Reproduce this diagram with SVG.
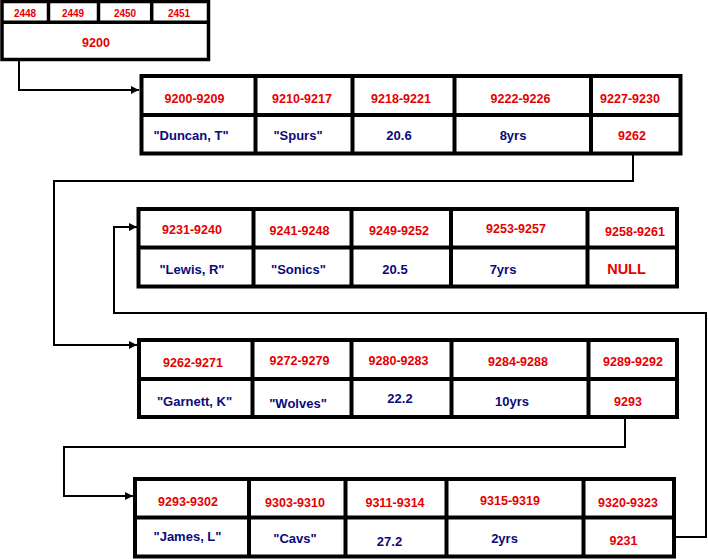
<svg xmlns="http://www.w3.org/2000/svg" width="708" height="559" viewBox="0 0 708 559">
<defs>
<marker id="arr" viewBox="0 0 10 10" refX="10" refY="5" markerWidth="4" markerHeight="4" markerUnits="strokeWidth" orient="auto">
<path d="M0,0 L10,5 L0,10 z" fill="#000"/>
</marker>
<style>
.box{fill:#fff;stroke:#000;stroke-width:4}
.ln{stroke:#000;stroke-width:4;fill:none}
.r{fill:#e60000;font-family:"Liberation Sans",Arial,sans-serif;font-weight:bold;font-size:12.5px;text-anchor:middle}
.s{fill:#e60000;font-family:"Liberation Sans",Arial,sans-serif;font-weight:bold;font-size:10px;text-anchor:middle}
.b{fill:#0a0a7a;font-family:"Liberation Sans",Arial,sans-serif;font-weight:bold;font-size:13px;text-anchor:middle}
.n{fill:#e60000;font-family:"Liberation Sans",Arial,sans-serif;font-weight:bold;font-size:14.5px;text-anchor:middle}
.c{stroke:#000;stroke-width:2;fill:none}
</style>
</defs>
<rect width="708" height="559" fill="#fff"/>

<g id="connectors">
<polyline class="c" points="19,60 19,90 139,90" marker-end="url(#arr)"/>
<polyline class="c" points="633,155 633,181 54,181 54,345 137,345" marker-end="url(#arr)"/>
<polyline class="c" points="625,419 625,447 64,447 64,496 133,496" marker-end="url(#arr)"/>
<polyline class="c" points="676,537 706,537 706,313 114,313 114,227 137,227" marker-end="url(#arr)"/>
</g>

<g id="head">
<rect class="box" x="2" y="1.5" width="206.5" height="58" style="stroke-width:3.5"/>
<line class="ln" x1="2" y1="22.3" x2="208.5" y2="22.3" style="stroke-width:3.5"/>
<line class="ln" x1="48.5" y1="1.5" x2="48.5" y2="22.3" style="stroke-width:3.5"/>
<line class="ln" x1="98.5" y1="1.5" x2="98.5" y2="22.3" style="stroke-width:3.5"/>
<line class="ln" x1="151.7" y1="1.5" x2="151.7" y2="22.3" style="stroke-width:3.5"/>
<text class="s" x="25" y="17">2448</text>
<text class="s" x="73" y="17">2449</text>
<text class="s" x="125" y="17">2450</text>
<text class="s" x="179" y="17">2451</text>
<text class="r" x="96" y="47">9200</text>
</g>

<g id="record1">
<rect class="box" x="141.5" y="76" width="539" height="77.5"/>
<line class="ln" x1="141.5" y1="115" x2="680.5" y2="115"/>
<line class="ln" x1="255.5" y1="76" x2="255.5" y2="153.5"/>
<line class="ln" x1="352.5" y1="76" x2="352.5" y2="153.5"/>
<line class="ln" x1="454.5" y1="76" x2="454.5" y2="153.5"/>
<line class="ln" x1="591" y1="76" x2="591" y2="153.5"/>
<text class="r" x="194.5" y="102.5">9200-9209</text>
<text class="r" x="302" y="103">9210-9217</text>
<text class="r" x="401" y="103">9218-9221</text>
<text class="r" x="520.5" y="103">9222-9226</text>
<text class="r" x="630" y="103">9227-9230</text>
<text class="b" x="191" y="139.5">"Duncan, T"</text>
<text class="b" x="298" y="140">"Spurs"</text>
<text class="b" x="399" y="140">20.6</text>
<text class="b" x="513" y="140">8yrs</text>
<text class="r" x="632" y="140">9262</text>
</g>

<g id="record2">
<rect class="box" x="138.5" y="209" width="538.5" height="77.5"/>
<line class="ln" x1="138.5" y1="247.5" x2="677" y2="247.5"/>
<line class="ln" x1="253.5" y1="209" x2="253.5" y2="286.5"/>
<line class="ln" x1="351.5" y1="209" x2="351.5" y2="286.5"/>
<line class="ln" x1="451" y1="209" x2="451" y2="286.5"/>
<line class="ln" x1="587.5" y1="209" x2="587.5" y2="286.5"/>
<text class="r" x="192" y="234">9231-9240</text>
<text class="r" x="299.5" y="235">9241-9248</text>
<text class="r" x="399" y="235">9249-9252</text>
<text class="r" x="516" y="233">9253-9257</text>
<text class="r" x="635" y="236">9258-9261</text>
<text class="b" x="192" y="273.5">"Lewis, R"</text>
<text class="b" x="298.5" y="274">"Sonics"</text>
<text class="b" x="395" y="274">20.5</text>
<text class="b" x="503" y="273.5">7yrs</text>
<text class="n" x="626.5" y="274">NULL</text>
</g>

<g id="record3">
<rect class="box" x="139" y="340" width="538" height="77"/>
<line class="ln" x1="139" y1="379" x2="677" y2="379"/>
<line class="ln" x1="252.5" y1="340" x2="252.5" y2="417"/>
<line class="ln" x1="351.5" y1="340" x2="351.5" y2="417"/>
<line class="ln" x1="451.5" y1="340" x2="451.5" y2="417"/>
<line class="ln" x1="588.5" y1="340" x2="588.5" y2="417"/>
<text class="r" x="193" y="366.5">9262-9271</text>
<text class="r" x="299.5" y="365">9272-9279</text>
<text class="r" x="398.5" y="365">9280-9283</text>
<text class="r" x="518" y="366">9284-9288</text>
<text class="r" x="633" y="366">9289-9292</text>
<text class="b" x="194.5" y="406">"Garnett, K"</text>
<text class="b" x="298" y="407.5">"Wolves"</text>
<text class="b" x="400" y="403">22.2</text>
<text class="b" x="512" y="406">10yrs</text>
<text class="r" x="628" y="406">9293</text>
</g>

<g id="record4">
<rect class="box" x="135" y="479" width="539" height="77.5"/>
<line class="ln" x1="135" y1="517.5" x2="674" y2="517.5"/>
<line class="ln" x1="249" y1="479" x2="249" y2="556.5"/>
<line class="ln" x1="345.5" y1="479" x2="345.5" y2="556.5"/>
<line class="ln" x1="446.5" y1="479" x2="446.5" y2="556.5"/>
<line class="ln" x1="583.5" y1="479" x2="583.5" y2="556.5"/>
<text class="r" x="188" y="506">9293-9302</text>
<text class="r" x="295" y="507">9303-9310</text>
<text class="r" x="395" y="507">9311-9314</text>
<text class="r" x="510" y="505">9315-9319</text>
<text class="r" x="628" y="507">9320-9323</text>
<text class="b" x="187.5" y="540.5">"James, L"</text>
<text class="b" x="295" y="543">"Cavs"</text>
<text class="b" x="389.5" y="546">27.2</text>
<text class="b" x="504.5" y="543">2yrs</text>
<text class="r" x="623.5" y="545">9231</text>
</g>
</svg>
